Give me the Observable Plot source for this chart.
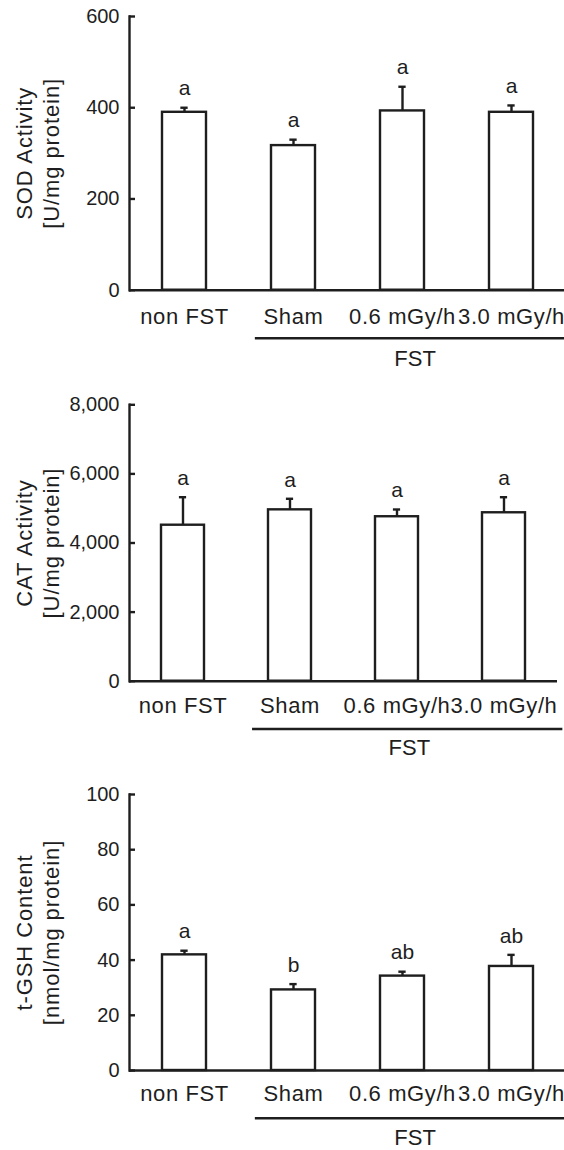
<!DOCTYPE html>
<html><head><meta charset="utf-8">
<script src="https://cdn.jsdelivr.net/npm/d3@7"></script>
<script src="https://cdn.jsdelivr.net/npm/@observablehq/plot@0.6"></script>
<style>
body{margin:0;background:#fff;}
#chart svg{display:block;overflow:hidden;}
</style></head><body><div id="chart"></div>
<script>
const groups = ["non FST", "Sham", "0.6 mGy/h", "3.0 mGy/h"];
const fstLabel = "FST";

const sodMean = [390, 317, 393, 390];
const sodErr = [10, 13, 53, 15];
const sodLetters = ["a", "a", "a", "a"];
const sodTicks = [0, 200, 400, 600];
const sodTitle = ["SOD Activity", "[U/mg protein]"];

const catMean = [4515, 4960, 4760, 4875];
const catErr = [810, 320, 210, 450];
const catLetters = ["a", "a", "a", "a"];
const catTicks = [0, 2000, 4000, 6000, 8000];
const catTitle = ["CAT Activity", "[U/mg protein]"];

const gshMean = [41.9, 29.2, 34.2, 37.7];
const gshErr = [1.5, 2.1, 1.6, 4.2];
const gshLetters = ["a", "b", "ab", "ab"];
const gshTicks = [0, 20, 40, 60, 80, 100];
const gshTitle = ["t-GSH Content", "[nmol/mg protein]"];

const INK = "#1e1e1e";
const FONT = "'Liberation Sans', Arial, Helvetica, sans-serif";
const W = 564, ML = 129;
const SW = 2.4;

const panels = [
  {mean: sodMean, err: sodErr, letters: sodLetters, ticks: sodTicks, title: sodTitle, fmt: d3.format("d"),
   height: 380, mt: 16, mb: 90.3, mr: 0, xEnd: 566, labPad: 18.4, fstOff: 48.6, fstTxt: 68.3},
  {mean: catMean, err: catErr, letters: catLetters, ticks: catTicks, title: catTitle, fmt: d3.format(","),
   height: 380, mt: 24.3, mb: 79.3, mr: 7, xEnd: 557, labPad: 16.4, fstOff: 48.3, fstTxt: 66},
  {mean: gshMean, err: gshErr, letters: gshLetters, ticks: gshTicks, title: gshTitle, fmt: d3.format("d"),
   height: 390, mt: 34, mb: 80, mr: 0, xEnd: 566, labPad: 15.1, fstOff: 48.3, fstTxt: 66.7}
];

const chart = document.getElementById("chart");

for (const p of panels) {
  const rows = groups.map((g, i) => ({g, m: p.mean[i], e: p.err[i], l: p.letters[i]}));
  const frameW = W - ML - p.mr;
  const step = (p.xEnd - ML) / groups.length;
  const bw = step * 0.4;
  const capW = 7;
  const capInset = (bw - capW) / 2;

  const plot = Plot.plot({
    width: W,
    height: p.height,
    marginLeft: ML,
    marginRight: p.mr,
    marginTop: p.mt,
    marginBottom: p.mb,
    style: {fontFamily: FONT, color: INK, background: "white"},
    x: {domain: groups, range: [ML, p.xEnd], paddingInner: 0.6, paddingOuter: 0.3, axis: null},
    y: {domain: [p.ticks[0], p.ticks[p.ticks.length - 1]], axis: null},
    marks: [
      Plot.barY(rows, {x: "g", y: "m", fill: "white", stroke: INK, strokeWidth: SW}),
      Plot.ruleX(rows, {x: "g", y1: "m", y2: d => d.m + d.e, stroke: INK, strokeWidth: SW}),
      Plot.tickY(rows, {x: "g", y: d => d.m + d.e, stroke: INK, strokeWidth: SW, insetLeft: capInset, insetRight: capInset}),
      Plot.text(rows, {x: "g", y: d => d.m + d.e, text: "l", dy: -19, fontSize: 21, fill: INK, lineAnchor: "middle"}),
      Plot.ruleY([0], {stroke: INK, strokeWidth: SW}),
      Plot.frame({anchor: "left", stroke: INK, strokeWidth: SW}),
      Plot.tickY(p.ticks, {y: d => d, stroke: INK, strokeWidth: SW, insetRight: frameW - 6}),
      Plot.axisY(p.ticks, {tickSize: 0, tickPadding: 10, tickFormat: p.fmt, fontSize: 20, fill: INK, label: null}),
      Plot.axisX({tickSize: 0, tickPadding: p.labPad, fontSize: 22, fill: INK, label: null}),
      Plot.text([p.title.join("\n")], {frameAnchor: "left", rotate: -90, dx: -92.5, text: d => d, fontSize: 22,
        lineHeight: 1.23, textAnchor: "middle", lineAnchor: "middle", fill: INK})
    ]
  });

  // group bracket "FST" below the axis, placed with the plot's own scales
  const sx = plot.scale("x"), sy = plot.scale("y");
  const bwS = sx.bandwidth;
  const center = v => sx.apply(v) + bwS / 2;
  const st = sx.apply(groups[1]) - sx.apply(groups[0]);
  const y0 = sy.apply(0);
  const x1 = center(groups[1]) - 0.35 * st;
  const x2 = center(groups[3]) + 0.55 * st;
  const svg = d3.select(plot);
  svg.selectAll("text")
    .filter(function() { return this.textContent.startsWith(p.title[0]); })
    .style("letter-spacing", "0.9px");
  svg.selectAll("text")
    .filter(function() { return groups.includes(this.textContent); })
    .style("letter-spacing", "0.6px");
  svg.append("line")
    .attr("x1", x1).attr("x2", x2).attr("y1", y0 + p.fstOff).attr("y2", y0 + p.fstOff)
    .attr("stroke", INK).attr("stroke-width", SW);
  svg.append("text")
    .attr("x", center(groups[2]) + 0.12 * st)
    .attr("y", y0 + p.fstTxt)
    .attr("dy", "0.36em")
    .attr("text-anchor", "middle")
    .attr("font-size", 22)
    .attr("font-family", FONT)
    .attr("fill", INK)
    .text(fstLabel);

  chart.appendChild(plot);
}
</script>
</body></html>
